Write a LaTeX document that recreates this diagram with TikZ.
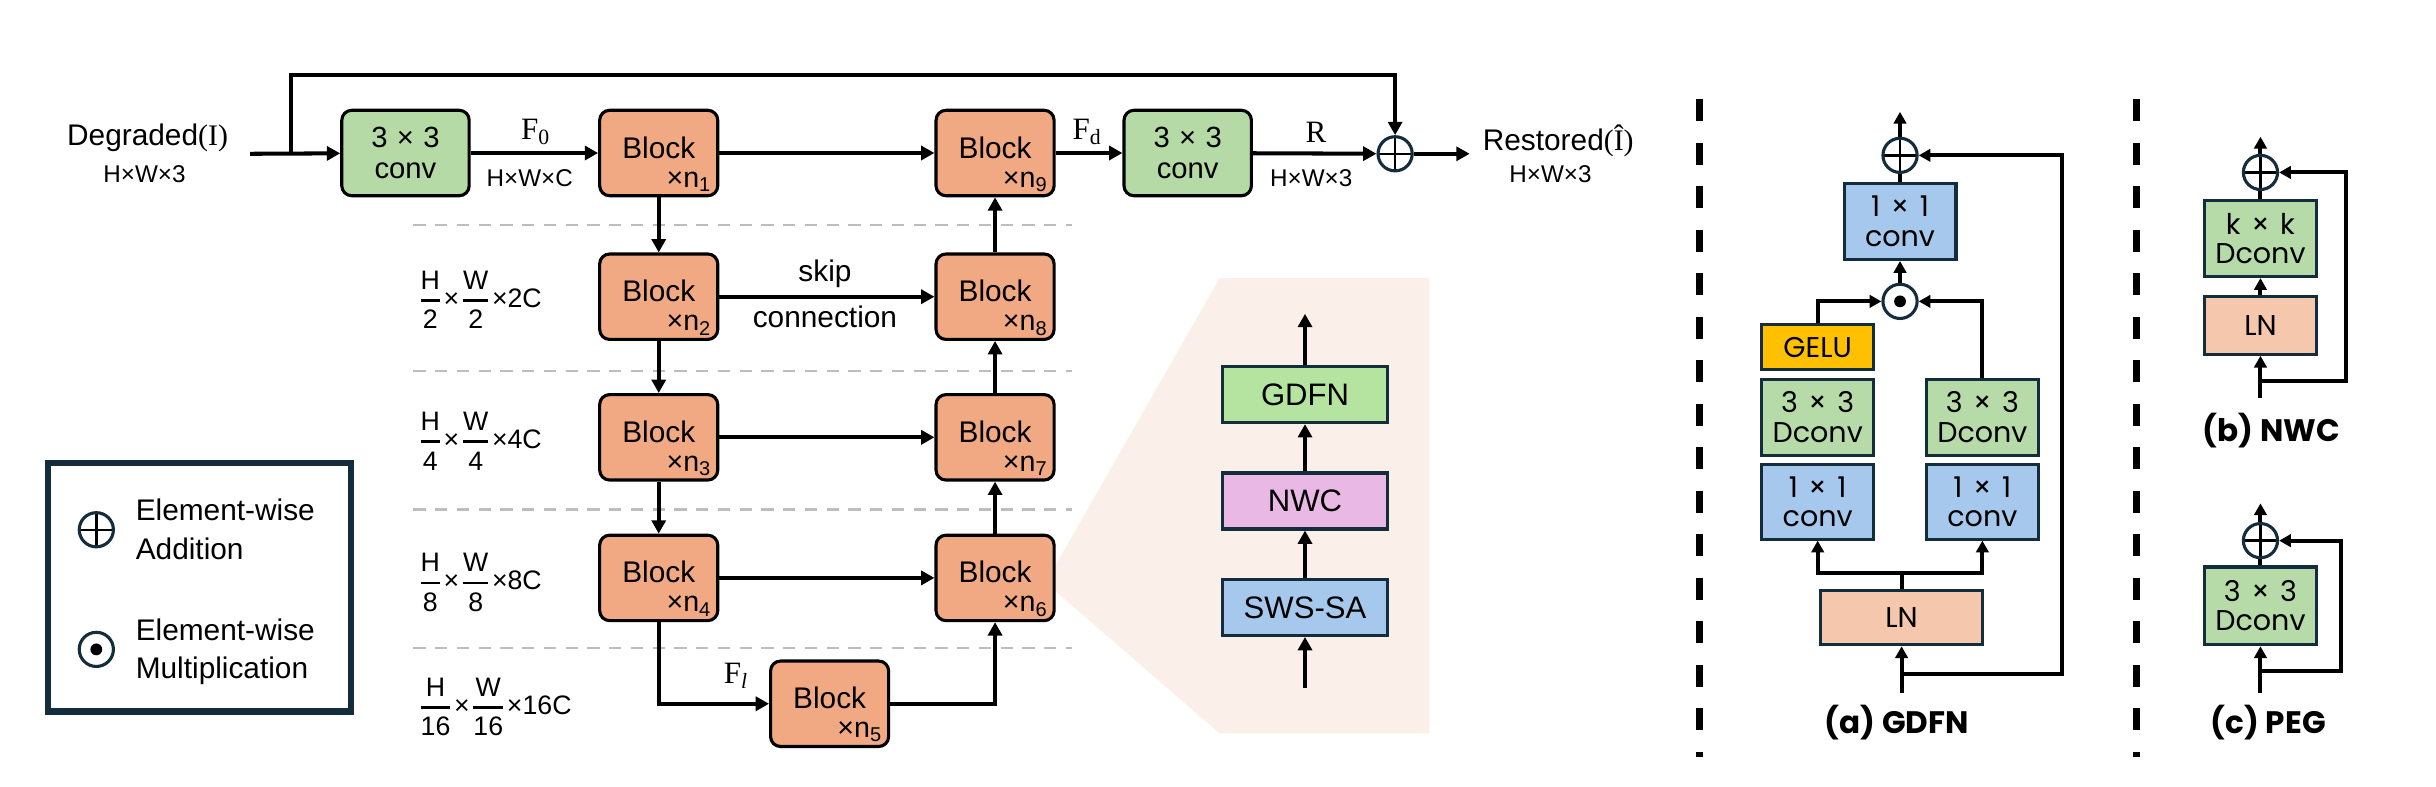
\documentclass[tikz,border=0pt]{standalone}
\usepackage{amsmath}
\usepackage{fontspec}
\setmainfont{Liberation Sans}
\newfontfamily\serifF{Liberation Serif}
\newfontfamily\popF{Poppins}
\usetikzlibrary{arrows.meta,positioning,calc}

\definecolor{blkor}{HTML}{F1A983}
\definecolor{convgr}{HTML}{B5DAA5}
\definecolor{gdfngr}{HTML}{B5E4A1}
\definecolor{pgreen}{HTML}{B6DAA8}
\definecolor{nwcpk}{HTML}{EAB8E4}
\definecolor{pblue}{HTML}{A6C8EC}
\definecolor{gelu}{HTML}{FFC000}
\definecolor{lnpc}{HTML}{F5C7AD}
\definecolor{wedgec}{HTML}{FBF0E9}
\definecolor{navy}{HTML}{142D3C}
\definecolor{dgray}{HTML}{BDBDBD}

\newcommand\fr[2]{\genfrac{}{}{0.9pt}{0}{\mbox{#1}}{\mbox{#2}}}
\newcommand\tx{\hspace{3pt}×\hspace{3pt}}
\newcommand\px{\hspace{3.4pt}×\hspace{3.4pt}}

\tikzset{
  blockbox/.style={draw=black, line width=1pt, rounded corners=3.2pt, fill=blkor,
    minimum width=38pt, minimum height=27.5pt, inner sep=0pt},
  convbox/.style={draw=black, line width=1pt, rounded corners=3.2pt, fill=convgr,
    minimum width=41pt, minimum height=27.5pt, inner sep=0pt, align=center,
    font=\fontsize{9.4}{9.8}\selectfont},
  arr/.style={line width=1.3pt, -{Triangle[length=4.3pt,width=4.5pt]}},
  sarr/.style={line width=1.3pt, -{Triangle[length=3.8pt,width=4pt]}},
  ln/.style={line width=1.3pt},
  plus/.style={circle, draw=navy, line width=1pt, minimum size=11pt, inner sep=0pt,
    path picture={\draw[black, line width=0.8pt]
      (path picture bounding box.north) -- (path picture bounding box.south)
      (path picture bounding box.west) -- (path picture bounding box.east);}},
  dotc/.style={circle, draw=navy, line width=1pt, minimum size=11pt, inner sep=0pt,
    path picture={\fill[black] (path picture bounding box.center) circle (1.9pt);}},
  mbox/.style={draw=navy, line width=1pt, minimum width=53pt, minimum height=18pt,
    inner sep=0pt, font=\fontsize{10}{11}\selectfont},
  pbox/.style={draw=navy, line width=1pt, minimum width=36pt, inner sep=0pt, align=center,
    font=\popF\fontsize{9.2}{9.4}\selectfont},
  capt/.style={font=\popF\bfseries\fontsize{10}{11}\selectfont, inner sep=0pt},
  txt/.style={inner sep=0pt},
  small/.style={inner sep=0pt, font=\fontsize{7.8}{9}\selectfont},
  serl/.style={inner sep=0pt, font=\serifF\fontsize{10}{11}\selectfont},
  scl/.style={inner sep=0pt, anchor=west, font=\fontsize{8.6}{10}\selectfont},
  gdash/.style={draw=dgray, line width=0.7pt, dash pattern=on 4pt off 3pt},
  sep/.style={line width=2.2pt, dash pattern=on 7pt off 7pt},
}

\newcommand\blk[4]{%
  \node[blockbox] (#1) at (#2,#3) {};
  \node[inner sep=0pt, font=\fontsize{9.6}{10}\selectfont] (#1t) at ([yshift=1.8pt]#1.center) {Block};
  \node[inner sep=0pt, font=\fontsize{9.2}{10}\selectfont, anchor=base east] (#1s)
    at ([xshift=-2.2pt,yshift=3.3pt]#1.south east) {×n\textsubscript{#4}};
}

\begin{document}
\begin{tikzpicture}[x=0.5pt, y=-0.5pt, font=\fontsize{9.6}{11.5}\selectfont]
\fill[white] (0,0) rectangle (1568,506);
\useasboundingbox (0,0) rectangle (1568,506);

% ---------- gray level separators ----------
\foreach \yy in {145,239,328,417} {
  \draw[gdash] (266,\yy) -- (690,\yy);
}

% ---------- zoom wedge ----------
\fill[wedgec] (785,179) -- (920,179) -- (920,472) -- (785,472) -- (673,375) -- cycle;

% ---------- main row ----------
\node[txt] (deg) at (95,89) {Degraded{\serifF(I)}};
\node[small] (degs) at (93,112) {H×W×3};
\coordinate (in) at (161,99);
\coordinate (sk) at (187,99);
\coordinate (topc) at (898,48);

\node[convbox] (c1) at (261,98.5) {3\tx{}3\\conv};
\blk{b1}{424}{98.5}{1}
\blk{b9}{640.5}{98.5}{9}
\node[convbox] (c2) at (764.5,98.5) {3\tx{}3\\conv};
\node[plus] (add) at (898,99) {};
\coordinate (out) at (946,99);

\node[txt] (rest) at (1003,91) {Restored{\serifF(Î)}};
\node[small] (rests) at (998,112) {H×W×3};

\draw[arr] (in) -- (c1);
\draw[arr] (sk) |- (topc) -- (add.north);
\draw[arr] (c1) -- (b1);
\node[serl] (f0) at (345,85) {F\textsubscript{0}};
\node[small] (f0s) at (341,115) {H×W×C};
\draw[arr] (b1) -- (b9);
\draw[arr] (b9) -- (c2);
\node[serl] (fd) at (700,85) {F\textsubscript{d}};
\draw[arr] (c2) -- (add);
\node[serl] (rl) at (847,85) {R};
\node[small] (rls) at (844,115) {H×W×3};
\draw[arr] (add) -- (out);

% ---------- U levels ----------
\blk{b2}{424}{191}{2}
\blk{b8}{640.5}{191}{8}
\blk{b3}{424}{281.5}{3}
\blk{b7}{640.5}{281.5}{7}
\blk{b4}{424}{372}{4}
\blk{b6}{640.5}{372}{6}
\blk{b5}{534}{453}{5}

\draw[arr] (b1) -- (b2);
\draw[arr] (b2) -- (b3);
\draw[arr] (b3) -- (b4);
\draw[arr] (b2) -- (b8);
\draw[arr] (b3) -- (b7);
\draw[arr] (b4) -- (b6);
\draw[arr] (b6) -- (b7);
\draw[arr] (b7) -- (b8);
\draw[arr] (b8) -- (b9);
\draw[arr] (b4.south) |- (b5.west);
\draw[arr] (b5.east) -| (b6.south);

\node[txt] (skip1) at (531,176) {skip};
\node[txt] (skip2) at (531,204) {connection};
\node[serl] (fl) at (474,435) {F\textsubscript{\itshape l}};

\node[scl] (s2) at (268,193) {$\fr{H}{2}\mbox{×}\fr{W}{2}\mbox{×2C}$};
\node[scl] (s4) at (268,284) {$\fr{H}{4}\mbox{×}\fr{W}{4}\mbox{×4C}$};
\node[scl] (s8) at (268,375) {$\fr{H}{8}\mbox{×}\fr{W}{8}\mbox{×8C}$};
\node[scl] (s16) at (268,455) {$\fr{H}{16}\mbox{×}\fr{W}{16}\mbox{×16C}$};

% ---------- legend ----------
\node[draw=navy, line width=2pt, minimum width=97.5pt, minimum height=80pt] (leg) at (128.5,378) {};
\node[plus] (lplus) at (62,341) {};
\node[dotc] (ldot) at (62,418) {};
\node[txt, anchor=base west] (l1) at (87,335) {Element-wise};
\node[txt, anchor=base west] (l2) at (87,360) {Addition};
\node[txt, anchor=base west] (l3) at (87,412) {Element-wise};
\node[txt, anchor=base west] (l4) at (87,437) {Multiplication};

% ---------- block detail ----------
\node[mbox, fill=gdfngr] (gd) at (840,254) {GDFN};
\node[mbox, fill=nwcpk] (nw) at (840,322.5) {NWC};
\node[mbox, fill=pblue] (sw) at (840,391) {SWS-SA};
\coordinate (mtop) at (840,202);
\coordinate (mbot) at (840,443);
\draw[arr] (mbot) -- (sw);
\draw[arr] (sw) -- (nw);
\draw[arr] (nw) -- (gd);
\draw[arr] (gd) -- (mtop);

% ---------- separators ----------
\coordinate (sa1) at (1094,64);
\coordinate (sa2) at (1094,487);
\coordinate (sb1) at (1375,64);
\coordinate (sb2) at (1375,487);
\draw[sep] (sa1) -- (sa2);
\draw[sep] (sb1) -- (sb2);

% ---------- (a) GDFN ----------
\node[plus] (aadd) at (1223,100) {};
\node[pbox, fill=pblue, minimum height=24.5pt] (ac) at (1223,142.5) {1\px{}1\\conv};
\node[dotc] (amul) at (1223,194) {};
\node[pbox, fill=gelu, minimum height=14.5pt] (agelu) at (1170,223.5) {GELU};
\node[pbox, fill=pgreen, minimum height=24.5pt] (ald) at (1170,268.5) {3\px{}3\\Dconv};
\node[pbox, fill=pblue, minimum height=24pt] (alc) at (1170,323) {1\px{}1\\conv};
\node[pbox, fill=pgreen, minimum height=24.5pt] (ard) at (1276,268.5) {3\px{}3\\Dconv};
\node[pbox, fill=pblue, minimum height=24pt] (arc) at (1276,323) {1\px{}1\\conv};
\node[pbox, fill=lnpc, minimum width=52pt, minimum height=17.5pt] (aln) at (1224,397.5) {LN};
\coordinate (ain) at (1224,446);
\coordinate (abr) at (1224,434);
\coordinate (ar) at (1327,434);
\coordinate (asp) at (1224,369);
\coordinate (atop) at (1223,72);
\draw[sarr] (ain) -- (aln.south);
\draw[sarr] (abr) -- (ar) |- (aadd.east);
\draw[ln] (aln.north) -- (asp);
\draw[sarr] (asp) -| (alc.south);
\draw[sarr] (asp) -| (arc.south);
\draw[sarr] (agelu.north) |- (amul.west);
\draw[sarr] (ard.north) |- (amul.east);
\draw[sarr] (amul) -- (ac);
\draw[ln] (ac) -- (aadd);
\draw[sarr] (aadd) -- (atop);
\node[capt] (acap) at (1221,465) {(a) GDFN};

% ---------- (b) NWC ----------
\node[plus] (badd) at (1455,111) {};
\node[pbox, fill=pgreen, minimum height=24.5pt] (bd) at (1455,153.5) {k\px{}k\\Dconv};
\node[pbox, fill=lnpc, minimum height=18.5pt] (bln) at (1455,209.5) {LN};
\coordinate (bin) at (1455,256);
\coordinate (bbr) at (1455,245);
\coordinate (br) at (1510,245);
\coordinate (btop) at (1455,88);
\draw[sarr] (bin) -- (bln);
\draw[sarr] (bbr) -- (br) |- (badd.east);
\draw[sarr] (bln) -- (bd);
\draw[ln] (bd) -- (badd);
\draw[sarr] (badd) -- (btop);
\node[capt] (bcap) at (1462,277) {(b) NWC};

% ---------- (c) PEG ----------
\node[plus] (cadd) at (1455,348) {};
\node[pbox, fill=pgreen, minimum height=25pt] (cd) at (1455,390) {3\px{}3\\Dconv};
\coordinate (cin) at (1455,446);
\coordinate (cbr) at (1455,432);
\coordinate (cr) at (1507,432);
\coordinate (ctop) at (1455,324);
\draw[sarr] (cin) -- (cd);
\draw[sarr] (cbr) -- (cr) |- (cadd.east);
\draw[ln] (cd) -- (cadd);
\draw[sarr] (cadd) -- (ctop);
\node[capt] (ccap) at (1460,465) {(c) PEG};
\end{tikzpicture}
\end{document}
